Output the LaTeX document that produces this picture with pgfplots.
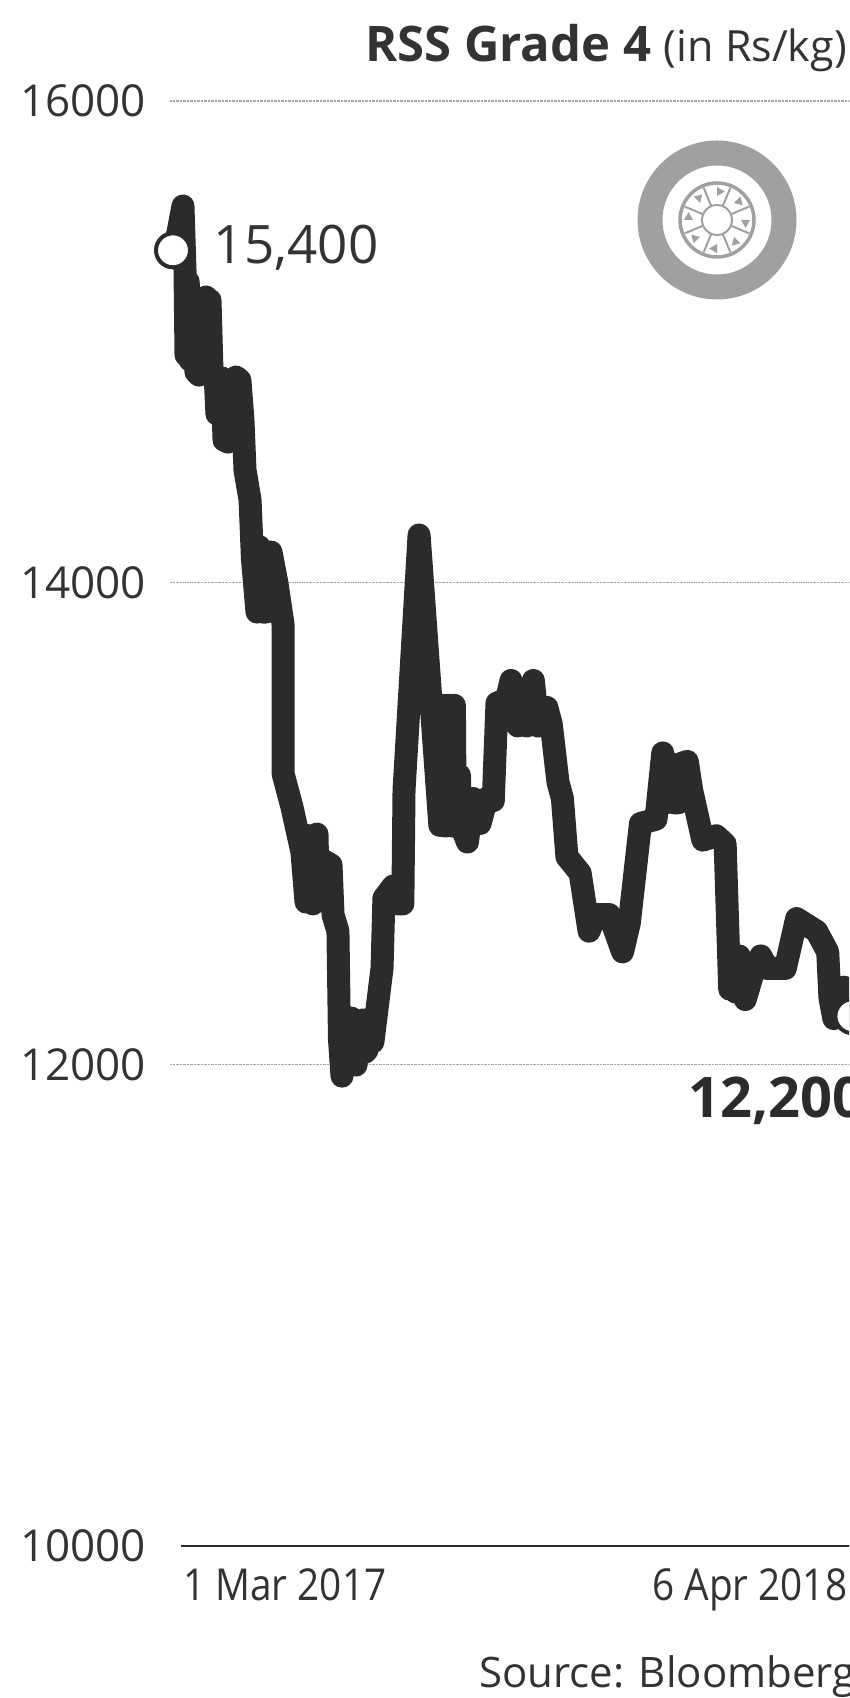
\documentclass[border=0pt]{standalone}
\usepackage{fontspec}
\setmainfont{Open Sans}
\newfontfamily\cond[FakeStretch=0.88]{Open Sans}
\usepackage{pgfplots}
\pgfplotsset{compat=1.18}
\definecolor{ink}{HTML}{2B2B2B}
\definecolor{txt}{HTML}{333333}
\definecolor{tyre}{HTML}{A0A0A0}
\begin{document}
\begin{tikzpicture}
\useasboundingbox (0,0) rectangle (849pt,1698pt);
\clip (0,0) rectangle (849pt,1698pt);
\begin{axis}[
  at={(170pt,152pt)}, anchor=south west,
  scale only axis, width=682.4pt, height=1445pt,
  xmin=-1.775, xmax=402, ymin=10000, ymax=16000,
  clip=false,
  axis line style={draw=none},
  major tick length=0pt,
  tick style={draw=none},
  scaled y ticks=false,
  ytick={12000,14000,16000},
  extra y ticks={10000},
  extra y tick style={grid=none},
  ymajorgrids,
  grid style={densely dotted, line width=1.2pt, color=gray!70},
  xtick={0},
  xticklabels={1 Mar 2017},
  extra x ticks={402},
  extra x tick labels={6 Apr 2018},
  extra x tick style={xticklabel style={anchor=north east, xshift=-15pt}},
  xticklabel style={anchor=north west, xshift=10pt, yshift=-22pt, inner sep=0pt, font=\cond\fontsize{44}{50}\selectfont, text=txt},
  yticklabel style={anchor=east, xshift=-24pt, inner sep=0pt, font=\fontsize{44}{50}\selectfont, text=txt,
    /pgf/number format/fixed, /pgf/number format/1000 sep={}, /pgf/number format/assume math mode=true},
  every extra y tick/.append style={/pgf/number format/1000 sep={}},
]
\addplot[color=ink, line width=2.5pt, forget plot] coordinates {(4.7,10000) (402,10000)};
\addplot[color=ink, line width=23pt, line join=round, line cap=round, forget plot] coordinates {
(0,15380)(3,15456)(5.9,15564)(7.1,15298)(7.7,14945)(9,15250)(10.1,14924)(11.8,15150)(13.6,14874)(15.4,14862)
(16.5,15150)(17.8,15173)(19.5,15186)(20.5,15000)(21.9,15173)(23.1,14874)(24.9,14862)(26,14700)(27.2,14850)(29,14850)(30.2,14592)(32.5,14584)
(33.5,14750)(34.3,14820)(37.3,14854)(39.6,14841)(41.4,14675)(42.6,14468)(45.6,14343)(47,14100)(49.7,13878)(51,14150)(53,13878)(55,13878)(55.6,14127)
(58,14127)(61.5,13998)(65.1,13828)(65.2,13205)(70.4,13068)(76.3,12881)(77.5,12778)(78.7,12674)(80,12950)(82.8,12666)(83,12900)(85.2,12956)
(86,12700)(87.6,12682)(88,12850)(93.5,12828)(94.7,12620)(97.6,12553)(98.5,12105)(100,11951)(102,12100)(103,12000)(105.6,12192)(107,12050)(108.3,11997)(110,12150)(112.4,12184)
(113.5,12050)(114.8,12059)(117.2,12192)(118.3,12093)(123.7,12400)(124.8,12690)(130.2,12740)(133,12666)(136,12666)(136.7,13139)
(139.6,13484)(145.6,14198)(157.9,12992)(158.5,13491)(160,13491)(160.5,12990)(162,12990)(162.5,13491)(164,13491)(164.5,12990)(166,12990)(166.5,13491)(167,13000)(168.9,12983)(169.5,13200)(170,13000)(174.2,12923)
(177.6,13104)(181.7,13000)(185.6,13104)(189.5,13095)(191.7,13500)(197.5,13517)(200,13594)(204,13405)(206,13520)(209.3,13405)(210,13500)
(213.2,13594)(215.9,13405)(221.2,13482)(223.8,13413)(227.8,13172)(230.4,13104)(233.1,12862)(240.9,12794)
(246.2,12553)(250.2,12622)(258.1,12622)(266,12467)(270,12587)(276.6,13000)(285.8,13018)(289.8,13293)(292,13086)(294,13250)(296.4,13086)
(299,13086)(301,13250)(304.3,13258)(306.9,13138)(313.5,12931)(321.4,12949)(326.7,12915)(329.4,12312)(331,12400)(333,12300)(335,12450)(338.6,12269)(342.5,12363)
(347.8,12450)(351.8,12398)(362.3,12398)(369,12605)(380.8,12553)(387.4,12467)(388.7,12277)(391,12190)(394,12300)
(397,12320)(402,12200)};
\addplot[only marks, mark=*, mark size=17pt, mark options={fill=white, draw=ink, line width=4pt}, forget plot]
  coordinates {(0,15380)(402,12200)};
\node[anchor=west, inner sep=0pt, text=txt, font=\fontsize{53}{58}\selectfont] at (axis cs:24,15392) {15,400};
\node[anchor=west, inner sep=0pt, text=ink, font=\fontsize{56}{62}\selectfont\bfseries] at (axis cs:305,11850) {12,200};
\end{axis}
\begin{scope}[shift={(0,1698pt)},x=1pt,y=-1pt]
  \node[anchor=east, inner sep=0pt, text=txt] at (847,48) {\fontsize{49}{56}\selectfont\bfseries RSS Grade 4 \fontsize{43}{56}\selectfont\mdseries (in Rs/kg)};
  \node[anchor=west, inner sep=0pt, text=txt, font=\fontsize{42}{48}\selectfont] at (479,1677) {Source: Bloomberg};
  % tyre icon
  \draw[tyre, line width=25pt] (717,220) circle [radius=67];
  \draw[tyre, line width=3.5pt] (717,220) circle [radius=37];
  \draw[tyre, line width=2pt] (717,220) circle [radius=15];
  \foreach \a in {0,45,...,315} {
    \fill[tyre] (717,220) ++(\a:33) -- ++(\a+120:9) -- ++(\a+240:9) -- cycle;
    \draw[tyre, line width=2pt] (717,220) ++(\a+22.5:15) -- ++(\a+22.5:20);
  }
\end{scope}
\end{tikzpicture}
\end{document}
